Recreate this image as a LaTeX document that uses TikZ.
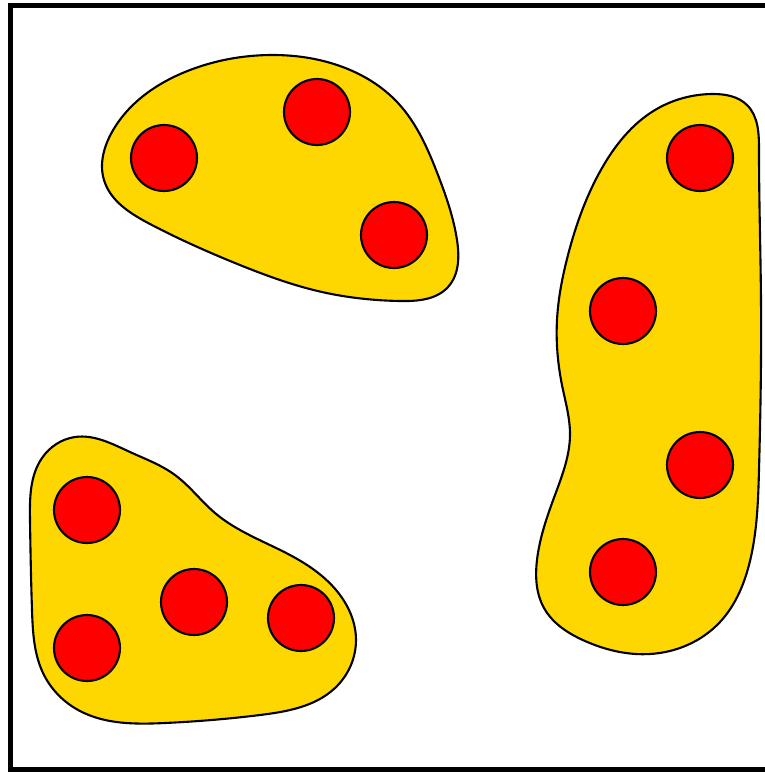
\documentclass[tikz,border=0pt]{standalone}
\usepackage{tikz}
\usetikzlibrary{positioning,hobby}
\definecolor{blobGold}{HTML}{FFD700}
\definecolor{dotRed}{HTML}{FF0000}

\begin{document}
\begin{tikzpicture}[x=0.02cm,y=-0.02cm,
    blob/.style={draw=black,line width=1.2pt,fill=blobGold,
                 use Hobby shortcut,closed=true},
    dot/.style={circle,draw=black,line width=1.2pt,fill=dotRed,
                minimum size=1.32cm,inner sep=0pt}]
  \useasboundingbox (0,0) rectangle (765,772);
  \clip (0,0) rectangle (765,772);
  \draw[line width=2.85pt] (10.5,5) rectangle (800,769.5);

  % top group
  \draw[blob] (270,55) .. (340,66) .. (398,103) .. (438,175) .. (457,240)
    .. (448,287) .. (400,301) .. (322,292) .. (235,263) .. (150,224)
    .. (104,180) .. (112,132) .. (190,70);
  \node[dot] (t1) at (164,158) {};
  \node[dot] (t2) at (317,112) {};
  \node[dot] (t3) at (394,235) {};

  % right group
  \draw[blob] (712,94) .. (747,105) .. (759,150) .. (761,300) .. (759,470)
    .. (749,565) .. (720,622) .. (650,654) .. (585,641) .. (544,608)
    .. (537,560) .. (555,495) .. (570,435) .. (562,385) .. (557,320)
    .. (568,255) .. (602,168) .. (655,110);
  \node[dot] (r1) at (700,158) {};
  \node[dot] (r2) at (623,311) {};
  \node[dot] (r3) at (700,465) {};
  \node[dot] (r4) at (623,572) {};

  % bottom-left group
  \draw[blob] (75,437) .. (130,452) .. (175,475) .. (215,513) .. (290,555)
    .. (340,595) .. (356,640) .. (335,688) .. (260,715) .. (165,723)
    .. (80,711) .. (44,675) .. (32,610) .. (30,520) .. (42,458);
  \node[dot] (b1) at (87,510) {};
  \node[dot] (b2) at (87,648) {};
  \node[dot] (b3) at (194,602) {};
  \node[dot] (b4) at (301,618) {};
\end{tikzpicture}
\end{document}
